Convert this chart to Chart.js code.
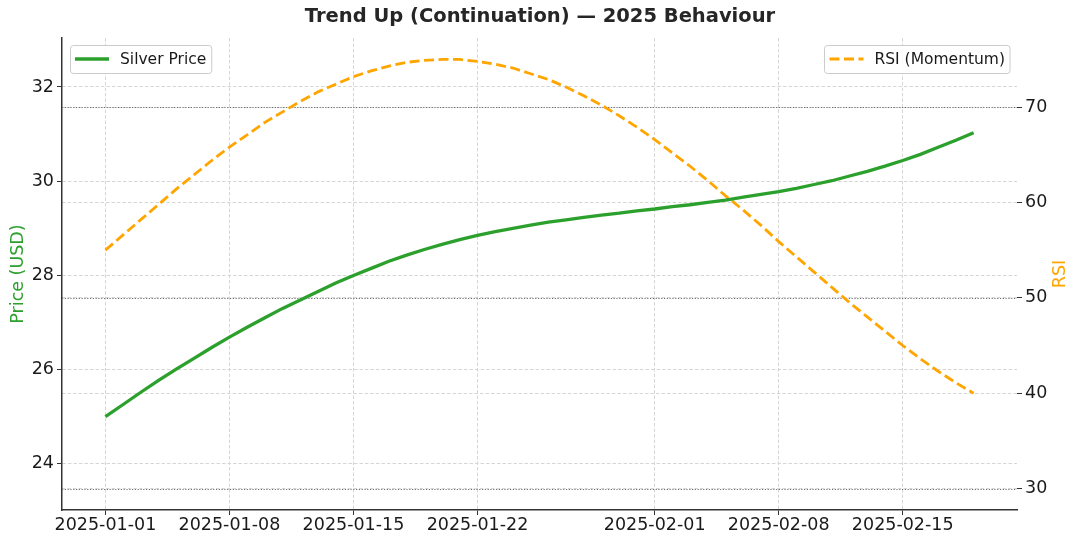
<!DOCTYPE html>
<html>
<head>
<meta charset="utf-8">
<script src="https://cdn.jsdelivr.net/npm/chart.js@4.4.1/dist/chart.umd.min.js"></script>
<style>
  html, body { margin: 0; padding: 0; background: #fff; }
</style>
</head>
<body>
<canvas id="trendChart" width="1080" height="539"></canvas>
<script>
// daily dates, 2025-01-01 .. 2025-02-19
const dates = [
  '2025-01-01','2025-01-02','2025-01-03','2025-01-04','2025-01-05','2025-01-06','2025-01-07','2025-01-08','2025-01-09','2025-01-10',
  '2025-01-11','2025-01-12','2025-01-13','2025-01-14','2025-01-15','2025-01-16','2025-01-17','2025-01-18','2025-01-19','2025-01-20',
  '2025-01-21','2025-01-22','2025-01-23','2025-01-24','2025-01-25','2025-01-26','2025-01-27','2025-01-28','2025-01-29','2025-01-30',
  '2025-01-31','2025-02-01','2025-02-02','2025-02-03','2025-02-04','2025-02-05','2025-02-06','2025-02-07','2025-02-08','2025-02-09',
  '2025-02-10','2025-02-11','2025-02-12','2025-02-13','2025-02-14','2025-02-15','2025-02-16','2025-02-17','2025-02-18','2025-02-19'
];

const silverPrice = [
  25.00, 25.26, 25.52, 25.77, 26.01, 26.24, 26.47, 26.69, 26.90, 27.10,
  27.30, 27.48, 27.66, 27.84, 28.00, 28.15, 28.30, 28.43, 28.55, 28.66,
  28.76, 28.85, 28.93, 29.00, 29.07, 29.13, 29.18, 29.23, 29.28, 29.32,
  29.37, 29.41, 29.46, 29.50, 29.55, 29.60, 29.66, 29.72, 29.78, 29.85,
  29.93, 30.01, 30.11, 30.21, 30.32, 30.44, 30.57, 30.72, 30.87, 31.03
];

const rsi = [
  55.0, 56.6, 58.2, 59.8, 61.4, 62.9, 64.4, 65.8, 67.1, 68.4,
  69.5, 70.6, 71.6, 72.4, 73.2, 73.8, 74.3, 74.7, 74.9, 75.0,
  75.0, 74.8, 74.5, 74.1, 73.5, 72.9, 72.1, 71.2, 70.2, 69.1,
  67.9, 66.6, 65.2, 63.8, 62.3, 60.7, 59.2, 57.6, 55.9, 54.3,
  52.7, 51.1, 49.5, 48.0, 46.5, 45.0, 43.6, 42.3, 41.1, 40.0
];

const dateTicks = ['2025-01-01','2025-01-08','2025-01-15','2025-01-22','2025-02-01','2025-02-08','2025-02-15'];
const priceTicks = [24, 26, 28, 30, 32];
const rsiTicks = [30, 40, 50, 60, 70];
const rsiLevels = [70, 50, 30];

const GREEN = '#2ca02c';
const ORANGE = '#ffa500';
const TEXT = '#1a1a1a';
const GRID = '#d6d6d6';

Chart.defaults.font.family = "'DejaVu Sans', sans-serif";
Chart.defaults.color = TEXT;

// dotted RSI reference lines
const rsiLines = {
  id: 'rsiLines',
  beforeDatasetsDraw(chart) {
    const {ctx, chartArea} = chart;
    const y1 = chart.scales.y1;
    ctx.save();
    ctx.strokeStyle = '#6e6e6e';
    ctx.lineWidth = 1;
    ctx.setLineDash([1.2, 1.6]);
    rsiLevels.forEach(v => {
      const y = Math.round(y1.getPixelForValue(v)) + 0.5;
      ctx.beginPath();
      ctx.moveTo(chartArea.left, y);
      ctx.lineTo(chartArea.right, y);
      ctx.stroke();
    });
    ctx.restore();
  }
};

// two separate legend boxes, one per axis, and the right axis title read bottom-up
const splitLegend = {
  id: 'splitLegend',
  afterDatasetsDraw(chart) {
    const {ctx, chartArea} = chart;
    ctx.save();
    ctx.font = "15.5px 'DejaVu Sans'";
    chart.data.datasets.forEach((ds, i) => {
      const tw = ctx.measureText(ds.label).width;
      const w = 50 + tw + 5;
      const h = 28;
      const x = i === 0 ? chartArea.left + 8 : chartArea.right - 7 - w;
      const y = chartArea.top + 7;
      ctx.setLineDash([]);
      ctx.fillStyle = 'rgba(255,255,255,0.85)';
      ctx.strokeStyle = '#cccccc';
      ctx.lineWidth = 1;
      ctx.beginPath();
      ctx.roundRect(Math.round(x) + 0.5, y + 0.5, w, h, 3);
      ctx.fill();
      ctx.stroke();

      ctx.setLineDash(ds.borderDash || []);
      ctx.strokeStyle = ds.borderColor;
      ctx.lineWidth = ds.borderWidth;
      ctx.beginPath();
      ctx.moveTo(x + 5, y + h / 2);
      ctx.lineTo(x + 39, y + h / 2);
      ctx.stroke();

      ctx.setLineDash([]);
      ctx.fillStyle = TEXT;
      ctx.textBaseline = 'middle';
      ctx.fillText(ds.label, x + 50, y + h / 2 + 1);
    });
    ctx.restore();
  },
  afterDraw(chart) {
    const {ctx, chartArea} = chart;
    ctx.save();
    ctx.translate(1060, (chartArea.top + chartArea.bottom) / 2);
    ctx.rotate(-Math.PI / 2);
    ctx.font = "17.5px 'DejaVu Sans'";
    ctx.fillStyle = ORANGE;
    ctx.textAlign = 'center';
    ctx.textBaseline = 'middle';
    ctx.fillText('RSI', 0, 0);
    ctx.restore();
  }
};

const tickFont = { size: 17.5 };

new Chart(document.getElementById('trendChart').getContext('2d'), {
  type: 'line',
  data: {
    datasets: [
      {
        label: 'Silver Price',
        data: silverPrice.map((v, i) => ({ x: i, y: v })),
        borderColor: GREEN,
        borderWidth: 3.3,
        pointRadius: 0,
        fill: false,
        yAxisID: 'y'
      },
      {
        label: 'RSI (Momentum)',
        data: rsi.map((v, i) => ({ x: i, y: v })),
        borderColor: ORANGE,
        borderWidth: 2.8,
        borderDash: [10, 4.5],
        pointRadius: 0,
        fill: false,
        yAxisID: 'y1'
      }
    ]
  },
  options: {
    responsive: false,
    animation: false,
    layout: { padding: 0 },
    plugins: {
      legend: { display: false },
      tooltip: { enabled: false },
      title: {
        display: true,
        text: 'Trend Up (Continuation) \u2014 2025 Behaviour',
        color: '#262626',
        font: { size: 19.5, weight: 'bold' },
        padding: { top: 5, bottom: 9.6 }
      }
    },
    scales: {
      x: {
        type: 'linear',
        min: -2.45,
        max: 51.45,
        afterBuildTicks: s => { s.ticks = dateTicks.map(d => ({ value: dates.indexOf(d) })); },
        afterFit: s => { s.height = 29; },
        ticks: {
          autoSkip: false,
          maxRotation: 0,
          padding: 0,
          font: tickFont,
          color: TEXT,
          callback: v => dates[v]
        },
        grid: { color: GRID, lineWidth: 1, tickColor: '#333', tickLength: 5 },
        border: { display: true, color: '#333', width: 1.5, dash: [3.5, 2] }
      },
      y: {
        position: 'left',
        min: 23.02,
        max: 33.04,
        afterBuildTicks: s => { s.ticks = priceTicks.map(v => ({ value: v })); },
        afterFit: s => { s.width = 62; },
        ticks: { font: tickFont, color: TEXT, padding: 3, callback: v => String(v) },
        grid: { color: GRID, lineWidth: 1, tickColor: '#333', tickLength: 5 },
        border: { display: true, color: '#333', width: 1.5, dash: [3.5, 2] },
        title: {
          display: true,
          text: 'Price (USD)',
          color: GREEN,
          font: { size: 17.5 },
          padding: { top: 7.5, bottom: 0 }
        }
      },
      y1: {
        position: 'right',
        min: 27.75,
        max: 77.25,
        afterBuildTicks: s => { s.ticks = rsiTicks.map(v => ({ value: v })); },
        afterFit: s => { s.width = 63; },
        ticks: { font: tickFont, color: TEXT, padding: 3, callback: v => String(v) },
        grid: { color: GRID, lineWidth: 1, tickColor: '#333', tickLength: 5 },
        border: { display: false, dash: [3.5, 2] },
        title: { display: false }
      }
    }
  },
  plugins: [rsiLines, splitLegend]
});
</script>
</body>
</html>
